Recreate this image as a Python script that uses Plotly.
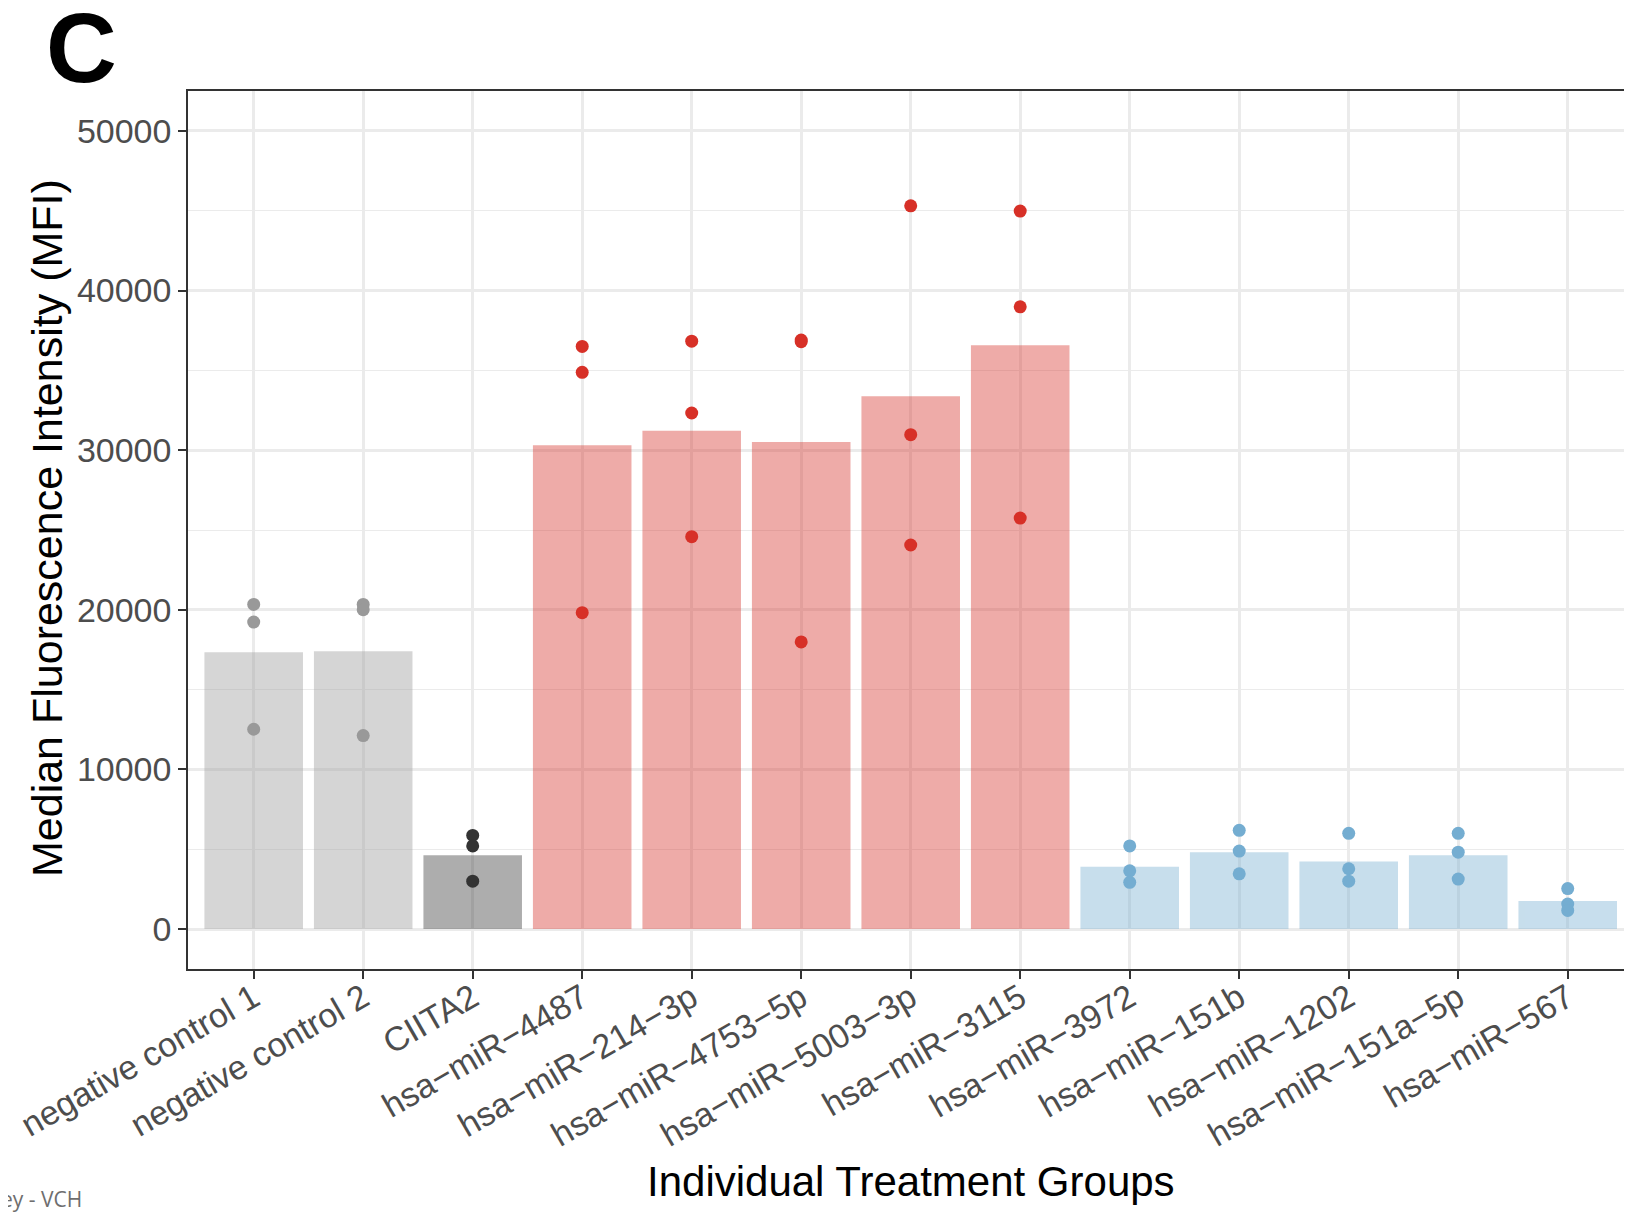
import plotly.graph_objects as go

categories = ["negative control 1", "negative control 2", "CIITA2", "hsa\u2212miR\u22124487",
              "hsa\u2212miR\u2212214\u22123p", "hsa\u2212miR\u22124753\u22125p", "hsa\u2212miR\u22125003\u22123p",
              "hsa\u2212miR\u22123115", "hsa\u2212miR\u22123972", "hsa\u2212miR\u2212151b",
              "hsa\u2212miR\u22121202", "hsa\u2212miR\u2212151a\u22125p", "hsa\u2212miR\u2212567"]
groups = ["neg", "neg", "pos", "up", "up", "up", "up", "up", "down", "down", "down", "down", "down"]

bar_values = [17340, 17405, 4630, 30310, 31225, 30510, 33380, 36570, 3910, 4820, 4240, 4630, 1760]

replicate_values = [
    [20340, 19230, 12520],
    [20340, 20010, 12120],
    [5870, 5210, 3000],
    [36500, 34880, 19820],
    [36830, 32330, 24580],
    [36900, 36800, 17990],
    [45310, 30970, 24060],
    [44980, 38980, 25750],
    [5210, 3650, 2930],
    [6190, 4890, 3460],
    [6000, 3780, 3000],
    [6000, 4820, 3130],
    [2540, 1570, 1170],
]

group_colors = {"neg": "#999999", "pos": "#333333", "up": "#D73027", "down": "#74ADD1"}

fig = go.Figure()
for g in ["neg", "pos", "up", "down"]:
    idx = [i for i, gg in enumerate(groups) if gg == g]
    fig.add_trace(go.Bar(
        x=[categories[i] for i in idx], y=[bar_values[i] for i in idx],
        marker=dict(color=group_colors[g], line=dict(width=0)), opacity=0.4,
        width=0.9, showlegend=False, hoverinfo="skip"))
for g in ["neg", "pos", "up", "down"]:
    idx = [i for i, gg in enumerate(groups) if gg == g]
    xs, ys = [], []
    for i in idx:
        for v in replicate_values[i]:
            xs.append(categories[i]); ys.append(v)
    fig.add_trace(go.Scatter(x=xs, y=ys, mode="markers",
                             marker=dict(color=group_colors[g], size=13, line=dict(width=0)),
                             showlegend=False))

OFF = 8  # page offset of the figure div
W, H = 1632 - OFF, 1217 - OFF
L, R, T = 188 - OFF, 0, 91 - OFF
B = H - (969 - OFF)
pw, ph = W - L - R, H - T - B

def px(x):
    return (x - OFF - L) / pw

def py(y):
    return 1 - (y - OFF - T) / ph

fig.update_layout(
    width=W, height=H, margin=dict(l=L, r=R, t=T, b=B, pad=0),
    paper_bgcolor="white", plot_bgcolor="white", bargap=0.1,
    font=dict(family="Liberation Sans, Arial, sans-serif"),
    xaxis=dict(type="category", categoryorder="array", categoryarray=categories,
               range=[-0.6, 12.587], showgrid=True, gridcolor="#EBEBEB", gridwidth=2.5,
               showline=True, mirror=True, linecolor="#333333", linewidth=1.5,
               ticks="outside", ticklen=8, tickwidth=2, tickcolor="#333333",
               tickangle=-30, ticklabelstandoff=-14, ticklabelshift=0,
               tickfont=dict(size=34, color="#4D4D4D"), zeroline=False),
    yaxis=dict(range=[-2500, 52500], tickvals=[0, 10000, 20000, 30000, 40000, 50000],
               ticktext=["0", "10000", "20000", "30000", "40000", "50000"],
               showgrid=True, gridcolor="#EBEBEB", gridwidth=2.5,
               minor=dict(tickvals=[5000, 15000, 25000, 35000, 45000], showgrid=True,
                          gridcolor="#EBEBEB", gridwidth=1.2, ticks=""),
               showline=True, mirror=False, linecolor="#333333", linewidth=1.5,
               ticks="outside", ticklen=8, tickwidth=2, tickcolor="#333333",
               tickfont=dict(size=34, color="#4D4D4D"), zeroline=False),
)

fig.add_annotation(text="Median Fluorescence Intensity (MFI)", xref="paper", yref="paper",
                   x=px(47), y=py(528), xanchor="center", yanchor="middle", textangle=-90,
                   showarrow=False, font=dict(size=43, color="black"))
fig.add_annotation(text="Individual Treatment Groups", xref="paper", yref="paper",
                   x=px(911), y=py(1181), xanchor="center", yanchor="middle",
                   showarrow=False, font=dict(size=42, color="black"))
fig.add_annotation(text="<b>C</b>", xref="paper", yref="paper",
                   x=px(81), y=py(48), xanchor="center", yanchor="middle",
                   showarrow=False, font=dict(size=98, color="black",
                                              family="Liberation Sans, Arial, sans-serif"))
fig.add_annotation(text="Wiley - VCH", xref="paper", yref="paper",
                   x=px(84), y=py(1199), xanchor="right", yanchor="middle",
                   showarrow=False, font=dict(size=21, color="#6E6E6E", family="Open Sans"))
fig.add_shape(type="line", xref="paper", yref="paper", x0=px(1), x1=px(1),
              y0=py(90), y1=py(947), line=dict(color="#777777", width=2))

fig.write_html("out.html")
